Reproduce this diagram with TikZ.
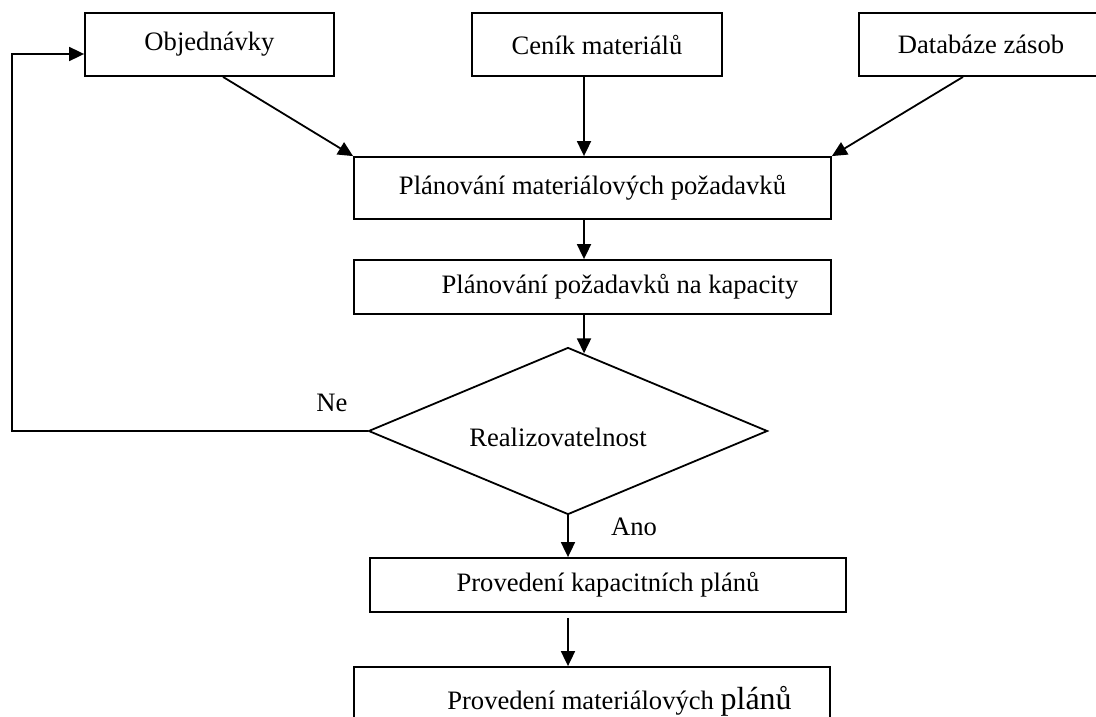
\documentclass[tikz,border=0pt]{standalone}
\usepackage{fontspec}
\setmainfont{Liberation Serif}
\usetikzlibrary{arrows.meta,shapes.geometric,calc}
\begin{document}
\begin{tikzpicture}[x=1pt,y=-1pt,
  line width=1.8pt,
  every node/.style={font=\fontsize{26.6}{32}\selectfont, inner sep=0pt},
  box/.style={draw, rectangle, minimum width=#1},
  flow/.style={-{Triangle[length=15pt,width=14pt]}},
]
\useasboundingbox (0,0) rectangle (1096,717);
\clip (0,0) rectangle (1096,717);

% input sources
\node[box=249pt, minimum height=63pt] (obj) at (209.5,44.5) {Objednávky};
\node[box=250pt, minimum height=63pt] (cen) at (597,44.5) {Ceník materiálů};
\node[box=244pt, minimum height=63pt] (dat) at (981,44.5) {Databáze zásob};

% planning steps
\node[box=477pt, minimum height=62pt] (pmp) at (592.5,188) {Plánování materiálových požadavků};
\node[box=477pt, minimum height=54pt] (ppk) at (592.5,287) {\hspace*{55pt}Plánování požadavků na kapacity};

% decision
\node[draw, diamond, aspect=2.39, minimum width=399pt, minimum height=167pt] (dec) at (568,431) {};
\node (dtx) at (558,437) {Realizovatelnost};

% results
\node[box=476pt, minimum height=54pt] (pkp) at (608,585) {Provedení kapacitních plánů};
\node[box=476pt, minimum height=68pt] (pmt) at (592,701) {\hspace*{55pt}Provedení materiálových {\fontsize{32}{38}\selectfont plánů}};

% branch labels
\node (ne) at (332,403) {Ne};
\node (ano) at (634,527) {Ano};

% helper points
\coordinate (cenin) at ($(pmp.north)+(-8.5,0)$);
\coordinate (din) at ($(dec.north)!0.08!(dec.east)$);
\coordinate (lo) at ([yshift=-5pt]pkp.south);
\coordinate (fbin) at ([yshift=-9.5pt]obj.west);
\coordinate (fbx) at (12,0);

% connectors
\draw[flow] ([xshift=13.5pt]obj.south) -- (pmp.north west);
\draw[flow] (cen.south -| cenin) -- (cenin);
\draw[flow] ([xshift=-18pt]dat.south) -- (pmp.north east);
\draw[flow] (pmp.south -| cenin) -- (ppk.north -| cenin);
\draw[flow] (ppk.south -| din) -- (din);
\draw[flow] (dec.south) -- (dec.south |- pkp.north);
\draw[flow] (lo -| dec.south) -- (pmt.north -| dec.south);
\draw[flow] (dec.west) -- (dec.west -| fbx) |- (fbin);
\end{tikzpicture}
\end{document}
